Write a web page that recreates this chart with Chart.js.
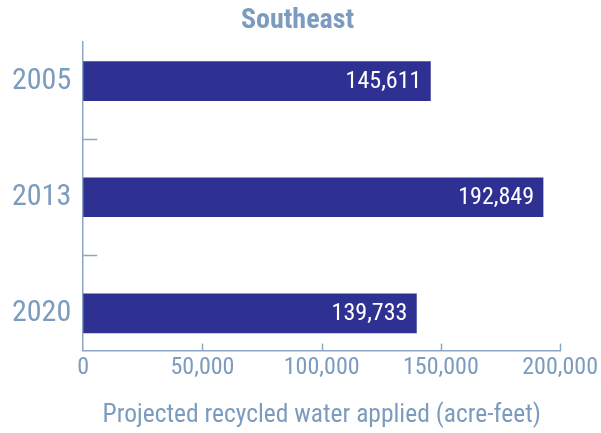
<!DOCTYPE html>
<html>
<head>
<meta charset="utf-8">
<script src="https://cdn.jsdelivr.net/npm/chart.js@4"></script>
<style>
  html, body { margin: 0; padding: 0; background: #fff; }
  #wrap { width: 601px; height: 433px; }
</style>
</head>
<body>
<div id="wrap"><canvas id="bar1"></canvas></div>
<script>
const years = ['2005', '2013', '2020'];
const recycled = [145611, 192849, 139733];
const xTicks = [0, 50000, 100000, 150000, 200000];

const textColor = '#7b9bbf';
const axisColor = '#8ba6c6';
const fontFam = '"Liberation Sans Narrow", "Roboto Condensed", "Liberation Sans", sans-serif';

const fmt = v => v.toLocaleString('en-US');

// short ticks drawn inside the plot, plus value labels in the bars
const innerTicks = {
    id: 'innerTicks',
    afterDatasetsDraw(chart) {
        const ctx = chart.ctx;
        const x = chart.scales.x, y = chart.scales.y;
        ctx.save();
        ctx.strokeStyle = axisColor;
        ctx.lineWidth = 1.5;
        for (let i = 0; i < years.length - 1; i++) {
            const py = Math.round(y.getPixelForValue(i + 0.5)) + 0.5;
            ctx.beginPath();
            ctx.moveTo(x.left, py);
            ctx.lineTo(x.left + 14, py);
            ctx.stroke();
        }
        xTicks.slice(1).forEach(v => {
            const px = Math.round(x.getPixelForValue(v)) + 0.5;
            ctx.beginPath();
            ctx.moveTo(px, y.bottom);
            ctx.lineTo(px, y.bottom - 7);
            ctx.stroke();
        });
        // value labels
        ctx.fillStyle = '#ffffff';
        ctx.font = '24px ' + fontFam;
        ctx.textAlign = 'right';
        ctx.textBaseline = 'middle';
        chart.getDatasetMeta(0).data.forEach((bar, i) => {
            ctx.fillText(fmt(recycled[i]), bar.x - 9, bar.y + 1);
        });
        ctx.restore();
    }
};

new Chart(document.getElementById('bar1'), {
    type: 'bar',
    data: {
        labels: years,
        datasets: [{
            label: 'Southeast',
            data: recycled,
            backgroundColor: '#2e3192',
            barThickness: 39
        }]
    },
    options: {
        indexAxis: 'y',
        responsive: true,
        maintainAspectRatio: false,
        animation: false,
        layout: { padding: { left: 0, right: 6, bottom: 2 } },
        plugins: {
            legend: { display: false },
            tooltip: { enabled: false },
            title: {
                display: true,
                text: 'Southeast',
                color: textColor,
                font: { family: fontFam, size: 28, weight: 'bold' },
                padding: { top: 4, bottom: 4 }
            }
        },
        scales: {
            x: {
                min: 0,
                max: 200000,
                afterBuildTicks: axis => { axis.ticks = xTicks.map(v => ({ value: v })); },
                grid: { display: false, drawTicks: false },
                border: { display: true, color: axisColor, width: 1.5 },
                ticks: {
                    color: textColor,
                    font: { family: fontFam, size: 24 },
                    padding: 3,
                    maxRotation: 0,
                    callback: v => fmt(v)
                },
                title: {
                    display: true,
                    text: 'Projected recycled water applied (acre-feet)',
                    color: textColor,
                    font: { family: fontFam, size: 25.5 },
                    padding: { top: 15, bottom: 0 }
                }
            },
            y: {
                // the source spreads the bars a little wider than the plot box
                afterBuildTicks: axis => { axis._startValue = -0.34; axis._valueRange = 2.66; },
                grid: { display: false, drawTicks: false },
                border: { display: true, color: axisColor, width: 1.5 },
                ticks: {
                    color: textColor,
                    font: { family: fontFam, size: 30 },
                    padding: 12
                }
            }
        }
    },
    plugins: [innerTicks]
});
</script>
</body>
</html>
